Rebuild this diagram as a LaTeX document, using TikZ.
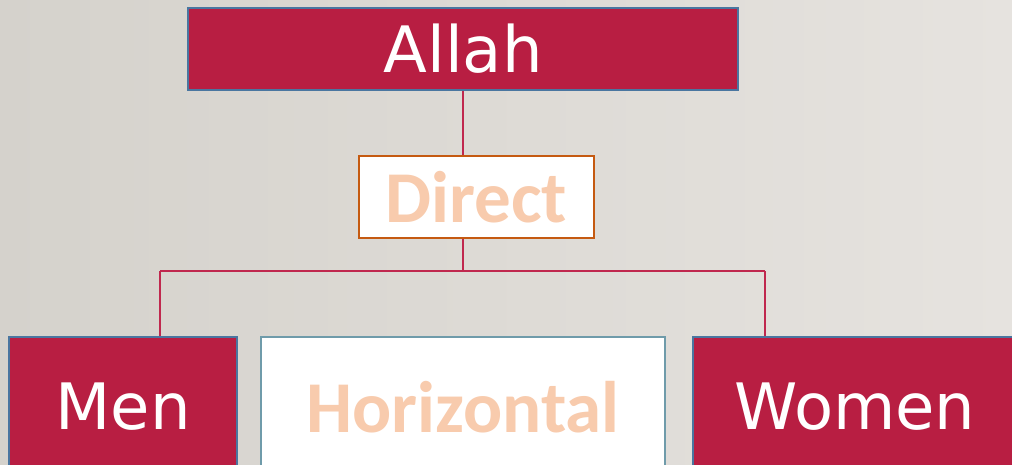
\documentclass[tikz,border=0pt]{standalone}
\usepackage{fontspec}
\newfontfamily\dejavu{DejaVu Sans}
\newfontfamily\carlito{Carlito}
\definecolor{crimson}{HTML}{B81E42}
\definecolor{bluegrey}{HTML}{4A76A0}
\definecolor{tealgrey}{HTML}{6F9BAA}
\definecolor{orangeedge}{HTML}{C55A11}
\definecolor{peach}{HTML}{F8CBAD}
\definecolor{linkred}{HTML}{C0284E}
\definecolor{bgleft}{HTML}{D5D2CC}
\definecolor{bgright}{HTML}{E6E3DF}
\tikzset{
  redbox/.style={draw=bluegrey, line width=2pt, fill=crimson, text=white, inner sep=0pt,
    font=\dejavu\fontsize{64}{70}\selectfont},
  whitebox/.style={line width=2pt, fill=white, text=peach, inner sep=0pt,
    font=\carlito\bfseries\fontsize{73}{80}\selectfont},
  link/.style={draw=linkred, line width=1.5pt}
}
\begin{document}
\begin{tikzpicture}[x=1pt,y=-1pt]
\useasboundingbox (0,0) rectangle (1012,465);
\clip (0,0) rectangle (1012,465);
\shade[left color=bgleft, right color=bgright] (0,0) rectangle (1012,465);
\node[redbox, minimum width=550pt, minimum height=82pt] (allah) at (463,49) {Allah};
\node[whitebox, draw=orangeedge, minimum width=235pt, minimum height=82pt] (direct) at (476.5,197) {Direct};
\node[redbox, minimum width=228pt, minimum height=140pt] (men) at (123,407) {Men};
\node[whitebox, draw=tealgrey, minimum width=404pt, minimum height=140pt] (horiz) at (463,407) {Horizontal};
\node[redbox, minimum width=460pt, minimum height=140pt, text width=320pt, align=center] (women) at (923,407) {};
\node[text=white, font=\dejavu\fontsize{64}{70}\selectfont, inner sep=0pt] (womentext) at (855,407) {Women};
\coordinate (split) at (463,271);
\coordinate (menj) at (160,271);
\coordinate (womenj) at (765,271);
\draw[link] (allah.south -| split) -- (direct.north -| split);
\draw[link] (direct.south -| split) -- (split);
\draw[link] (menj) -- (womenj);
\draw[link] (menj) -- (men.north -| menj);
\draw[link] (womenj) -- (women.north -| womenj);
\end{tikzpicture}
\end{document}
